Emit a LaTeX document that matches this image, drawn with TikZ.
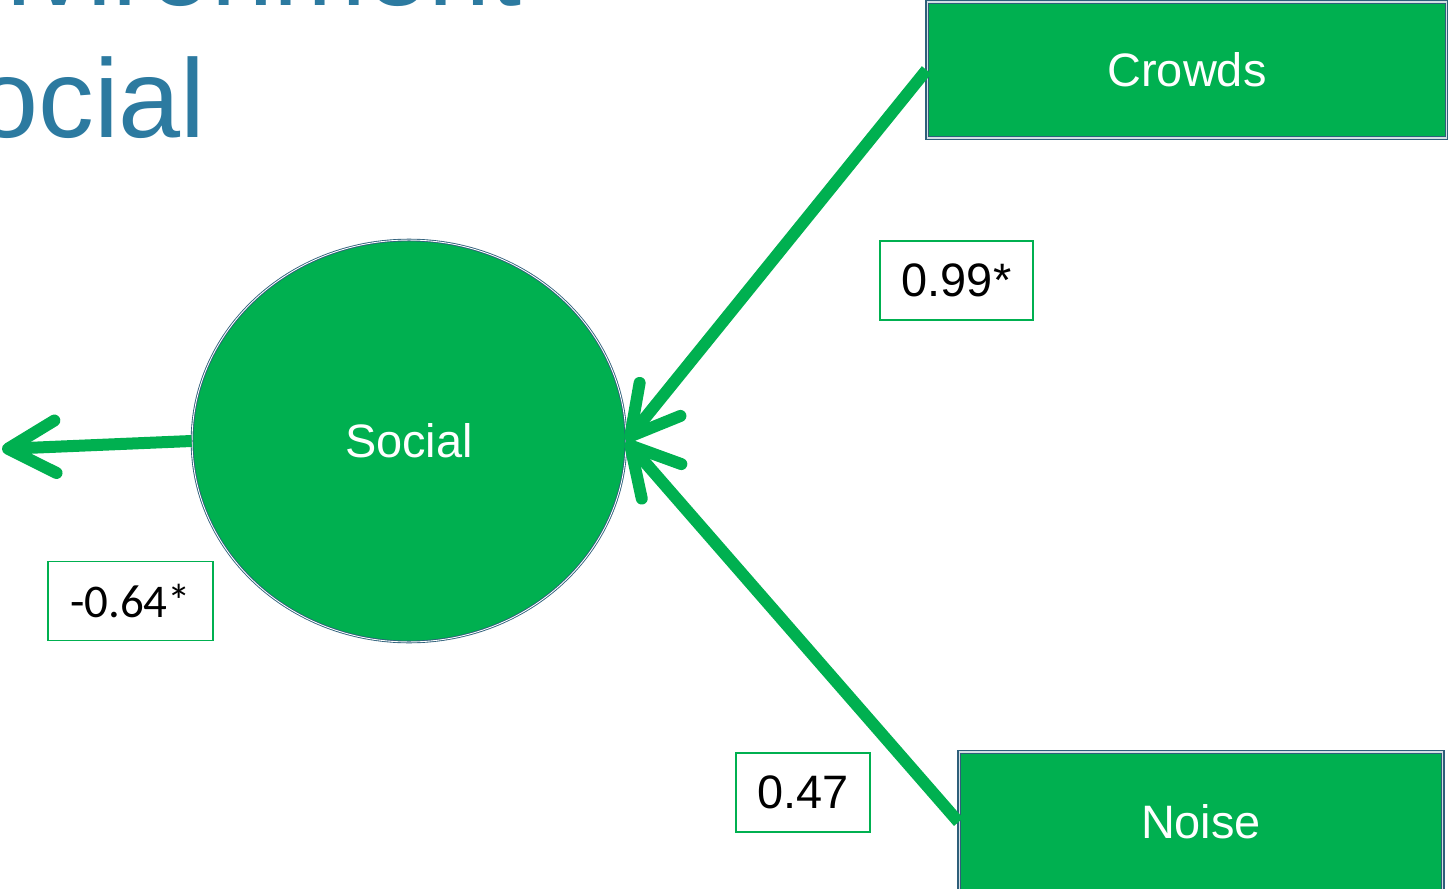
\documentclass[tikz,border=0pt]{standalone}
\usepackage{fontspec}
\setmainfont{Liberation Sans}
\newfontfamily\calibrifont{Carlito}
\usepackage{tikz}
\usetikzlibrary{shapes.geometric}
\usetikzlibrary{positioning}
\usetikzlibrary{arrows.meta}
\definecolor{pathgreen}{HTML}{00B050}
\definecolor{edgeblue}{HTML}{2E5F7A}
\definecolor{titleblue}{HTML}{2C7AA0}
\tikzstyle{title} = [text=titleblue, inner sep=0pt, font=\fontsize{63.5}{70}\selectfont]
\tikzstyle{latent} = [ellipse, minimum width=8.68cm, minimum height=8.04cm, text centered, draw=edgeblue, line width=0.5pt, double=white, double distance=0.5pt, fill=pathgreen, text=white, font=\fontsize{26.7}{32}\selectfont]
\tikzstyle{observed} = [rectangle, text centered, draw=edgeblue, line width=0.6pt, double=white!80!edgeblue, double distance=0.6pt, fill=pathgreen, text=white, font=\fontsize{26.7}{32}\selectfont]
\tikzstyle{coef} = [rectangle, minimum height=1.58cm, inner sep=0pt, text centered, draw=pathgreen, line width=1.1pt, fill=white, font=\fontsize{26.7}{32}\selectfont]
\tikzstyle{arrow} = [line width=0.24cm, draw=pathgreen, -{Straight Barb[length=0.95cm, width=1.05cm, round]}]

\begin{document}
\begin{tikzpicture}[x=0.02cm, y=-0.02cm]
        \useasboundingbox (0,0) rectangle (1448,889);
        \clip (0,0) rectangle (1448,889);

        \node (titletop) [title, anchor=base east] at (522,6) {Environment};
        \node (titlesub) [title, anchor=base east] at (206,137) {Social};

        \node (social) [latent] at (409,441) {Social};
        \node (crowds) [observed, minimum width=10.4cm, minimum height=2.72cm] at (1187,70) {Crowds};
        \node (noise) [observed, minimum width=9.68cm, minimum height=2.8cm] at (1201,822) {Noise};
        \coordinate (outcome) at (2,449);

        \draw [arrow] (crowds.west) -- (social.east);
        \draw [arrow] (noise.west) -- (social.east);
        \draw [arrow] (social.west) -- (outcome);

        \node (crowdscoef) [coef, minimum width=3.06cm] at (956.5,280.5) {0.99*};
        \node (noisecoef) [coef, minimum width=2.68cm] at (803,792.5) {0.47};
        \node (outcomecoef) [coef, minimum width=3.3cm, font=\calibrifont\fontsize{26.7}{32}\selectfont] at (130.5,601) {-0.64*};
    \end{tikzpicture}
\end{document}
